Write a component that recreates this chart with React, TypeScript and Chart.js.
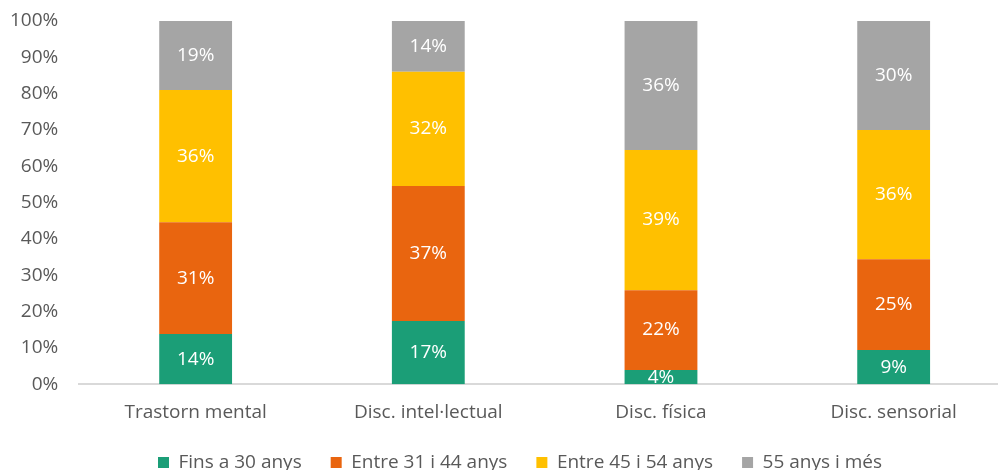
import React, { useEffect, useRef } from "react";
import { Chart, registerables } from "chart.js";

Chart.register(...registerables);

const categories = ["Trastorn mental", "Disc. intel·lectual", "Disc. física", "Disc. sensorial"];
const seriesNames = ["Fins a 30 anys", "Entre 31 i 44 anys", "Entre 45 i 54 anys", "55 anys i més"];
const fins30 = [13.8, 17.4, 3.9, 9.4];
const entre31_44 = [30.8, 37.2, 22.0, 25.0];
const entre45_54 = [36.4, 31.4, 38.6, 35.6];
const anys55 = [19.0, 14.0, 35.5, 30.0];
const labelValues = [
  [14, 17, 4, 9],
  [31, 37, 22, 25],
  [36, 32, 39, 36],
  [19, 14, 36, 30],
];
const yTicks = [0, 10, 20, 30, 40, 50, 60, 70, 80, 90, 100];
const colors = ["#1B9E77", "#E9650F", "#FFC000", "#A5A5A5"];

const FONT = "'Open Sans', 'Noto Sans', sans-serif";
const SHIFT = 11;
const W = 1032;
const H = 482;

const labelPlugin = {
  id: "segLabels",
  beforeDraw(chart: any) {
    const lg = chart.legend;
    if (lg && !lg._shifted) {
      const target = 520 + SHIFT;
      const cur = (lg.left + lg.right) / 2;
      lg.left += target - cur;
      lg.right += target - cur;
      lg._shifted = true;
    }
  },
  afterDatasetsDraw(chart: any) {
    const ctx = chart.ctx;
    ctx.save();
    ctx.font = `19px ${FONT}`;
    ctx.fillStyle = "#ffffff";
    ctx.textAlign = "center";
    ctx.textBaseline = "middle";
    chart.data.datasets.forEach((ds: any, di: number) => {
      const meta = chart.getDatasetMeta(di);
      meta.data.forEach((el: any, i: number) => {
        const y = (el.y + el.base) / 2;
        ctx.fillText(`${labelValues[di][i]}%`, el.x, y);
      });
    });
    ctx.restore();
  },
};

export default function App() {
  const ref = useRef<HTMLCanvasElement>(null);
  useEffect(() => {
    if (!ref.current) return;
    const data = [fins30, entre31_44, entre45_54, anys55];
    const chart = new Chart(ref.current, {
      type: "bar",
      data: {
        labels: categories,
        datasets: seriesNames.map((n, i) => ({
          label: n,
          data: data[i],
          backgroundColor: colors[i],
          borderWidth: 0,
          barPercentage: 0.313,
          categoryPercentage: 1,
        })),
      },
      options: {
        animation: false,
        responsive: false,
        maintainAspectRatio: false,
        layout: { padding: { top: 21, left: 0, right: SHIFT, bottom: 0 } },
        plugins: {
          tooltip: { enabled: false },
          legend: {
            position: "bottom",
            labels: {
              boxWidth: 11,
              boxHeight: 11,
              padding: 29,
              color: "#595959",
              font: { family: FONT, size: 19 },
            },
          },
        },
        scales: {
          x: {
            stacked: true,
            grid: { display: false, drawTicks: false },
            border: { display: true, color: "#d9d9d9", width: 2 },
            ticks: { color: "#595959", font: { family: FONT, size: 19 }, padding: 17 },
            afterFit: (axis: any) => {
              axis.height -= 17;
            },
          },
          y: {
            stacked: true,
            min: 0,
            max: 100,
            afterBuildTicks: (axis: any) => {
              axis.ticks = yTicks.map((v) => ({ value: v }));
            },
            afterFit: (axis: any) => {
              axis.paddingTop = 0;
            },
            grid: { display: false, drawTicks: false },
            border: { display: false },
            ticks: {
              color: "#595959",
              font: { family: FONT, size: 19 },
              padding: 21,
              callback: (v: any) => `${v}%`,
            },
          },
        },
      },
      plugins: [labelPlugin],
    });
    return () => chart.destroy();
  }, []);
  return (
    <div style={{ position: "fixed", left: -SHIFT, top: 0, width: W, height: H, background: "#fff" }}>
      <canvas ref={ref} width={W} height={H} style={{ width: W, height: H }} />
    </div>
  );
}
